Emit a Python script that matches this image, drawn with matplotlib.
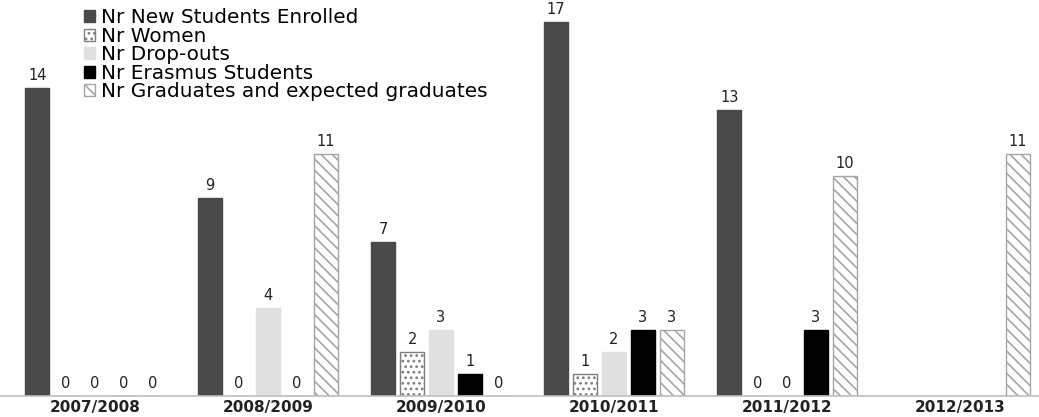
import numpy as np
import matplotlib
matplotlib.use("Agg")
from matplotlib import pyplot as plt

years = ["2007/2008", "2008/2009", "2009/2010", "2010/2011", "2011/2012", "2012/2013"]
series_names = ["Nr New Students Enrolled", "Nr Women", "Nr Drop-outs",
                "Nr Erasmus Students", "Nr Graduates and expected graduates"]
new_students = [14, 9, 7, 17, 13, None]
women = [0, 0, 2, 1, 0, None]
drop_outs = [0, 4, 3, 2, 0, None]
erasmus = [0, 0, 1, 3, 3, None]
graduates = [0, 11, 0, 3, 10, 11]

series = [new_students, women, drop_outs, erasmus, graduates]
styles = [
    dict(color="#4a4a4a", edgecolor="#4a4a4a"),
    dict(color="white", edgecolor="#7f7f7f", hatch="..."),
    dict(color="#e0e0e0", edgecolor="#e0e0e0"),
    dict(color="black", edgecolor="black"),
    dict(color="white", edgecolor="#a6a6a6", hatch="\\\\\\"),
]

plt.rcParams["font.family"] = "DejaVu Sans"
plt.rcParams["hatch.linewidth"] = 1.2

fig = plt.figure(figsize=(10.39, 4.17), dpi=100)
ax = fig.add_axes([0, 21 / 417, 1, 396 / 417])

x = np.arange(len(years))
step = 0.167
width = 0.139
for j, (vals, name, st) in enumerate(zip(series, series_names, styles)):
    pos = x + (j - 2) * step
    for xi, v in zip(pos, vals):
        if v is None:
            continue
        ax.bar(xi, v, width=width, linewidth=1, **st)
        ax.text(xi, v + 0.22, str(v), ha="center", va="bottom",
                fontsize=10.5, color="#222222")
    ax.bar(np.nan, 0, width=width, label=name, linewidth=1, **st)

ax.set_xlim(-0.549, 5.457)
ax.set_ylim(0, 18)
ax.set_yticks([])
ax.set_xticks(x)
ax.set_xticklabels(years, fontsize=11, fontweight="semibold", color="#222222")
ax.tick_params(axis="x", length=0, pad=3)
for s in ["top", "right", "left"]:
    ax.spines[s].set_visible(False)
ax.spines["bottom"].set_color("#bfbfbf")
ax.spines["bottom"].set_linewidth(1.2)

ax.legend(loc="upper left", bbox_to_anchor=(0.073, 1.0), frameon=False,
          fontsize=14.4, handlelength=0.55, handleheight=0.55, handletextpad=0.3,
          labelspacing=-0.02, borderaxespad=0.2, borderpad=0.2)

fig.savefig("out.png", dpi=100)
